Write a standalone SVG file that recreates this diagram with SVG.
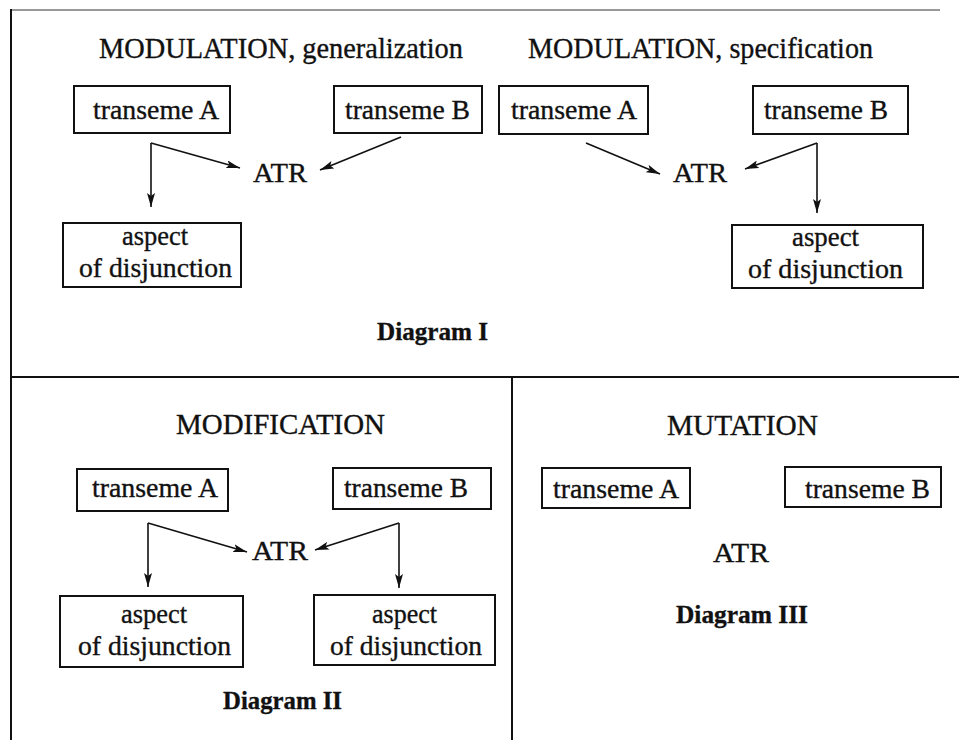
<svg xmlns="http://www.w3.org/2000/svg" width="959" height="740" viewBox="0 0 959 740">
<style>
text{font-family:"Liberation Serif","Times New Roman",serif;fill:#111;stroke:#111;stroke-width:0.35}
.t{font-size:27px}
.h{font-size:29px}
.d{font-size:26px;font-weight:bold}
.box{fill:none;stroke:#111;stroke-width:2}
.frame{fill:none;stroke:#111;stroke-width:2}
.c{fill:none;stroke:#111;stroke-width:1.6}
</style>
<defs>
<marker id="ah" viewBox="0 0 14 8" refX="14" refY="4" markerWidth="14" markerHeight="8" markerUnits="userSpaceOnUse" orient="auto">
<path d="M0,0 L14,4 L0,8 L3,4 z" fill="#111"/>
</marker>
</defs>
<rect width="959" height="740" fill="#fff"/>
<g id="frame">
<line x1="11" y1="10" x2="940" y2="10" stroke="#777" stroke-width="1.5"/>
<line class="frame" x1="11" y1="9" x2="11" y2="740"/>
<line class="frame" x1="11" y1="377" x2="959" y2="377"/>
<line class="frame" x1="512" y1="377" x2="512" y2="740"/>
</g>
<g id="diagram1">
<text id="title1a" class="h" x="99" y="58" textLength="364" lengthAdjust="spacingAndGlyphs">MODULATION, generalization</text>
<text id="title1b" class="h" x="528" y="58" textLength="345" lengthAdjust="spacingAndGlyphs">MODULATION, specification</text>
<g id="d1-tA1"><rect class="box" x="74" y="86" width="156" height="47"/><text class="t" x="93" y="119" textLength="126" lengthAdjust="spacingAndGlyphs">transeme A</text></g>
<g id="d1-tB1"><rect class="box" x="334" y="86" width="148" height="47"/><text class="t" x="345" y="119" textLength="125" lengthAdjust="spacingAndGlyphs">transeme B</text></g>
<g id="d1-tA2"><rect class="box" x="499" y="86" width="149" height="48"/><text class="t" x="511" y="119" textLength="126" lengthAdjust="spacingAndGlyphs">transeme A</text></g>
<g id="d1-tB2"><rect class="box" x="753" y="86" width="155" height="48"/><text class="t" x="764" y="119" textLength="124" lengthAdjust="spacingAndGlyphs">transeme B</text></g>
<g id="d1-atr1"><text class="t" x="253" y="182" textLength="54" lengthAdjust="spacingAndGlyphs">ATR</text></g>
<g id="d1-atr2"><text class="t" x="673" y="182" textLength="54" lengthAdjust="spacingAndGlyphs">ATR</text></g>
<g id="d1-asp1"><rect class="box" x="63" y="223" width="178" height="64"/><text class="t" x="122" y="245" textLength="66" lengthAdjust="spacingAndGlyphs">aspect</text><text class="t" x="79" y="277" textLength="153" lengthAdjust="spacingAndGlyphs">of disjunction</text></g>
<g id="d1-asp2"><rect class="box" x="732" y="225" width="191" height="63"/><text class="t" x="792" y="246" textLength="67" lengthAdjust="spacingAndGlyphs">aspect</text><text class="t" x="748" y="278" textLength="155" lengthAdjust="spacingAndGlyphs">of disjunction</text></g>
<text id="label1" class="d" x="377" y="340" textLength="111" lengthAdjust="spacingAndGlyphs">Diagram I</text>
</g>
<g id="diagram2">
<text id="title2" class="h" x="176" y="434" textLength="209" lengthAdjust="spacingAndGlyphs">MODIFICATION</text>
<g id="d2-tA"><rect class="box" x="77" y="469" width="151" height="42"/><text class="t" x="92" y="497" textLength="126" lengthAdjust="spacingAndGlyphs">transeme A</text></g>
<g id="d2-tB"><rect class="box" x="333" y="468" width="158" height="41"/><text class="t" x="344" y="497" textLength="124" lengthAdjust="spacingAndGlyphs">transeme B</text></g>
<g id="d2-atr"><text class="t" x="252" y="560" textLength="56" lengthAdjust="spacingAndGlyphs">ATR</text></g>
<g id="d2-asp1"><rect class="box" x="60" y="596" width="183" height="71"/><text class="t" x="121" y="623" textLength="66" lengthAdjust="spacingAndGlyphs">aspect</text><text class="t" x="78" y="655" textLength="153" lengthAdjust="spacingAndGlyphs">of disjunction</text></g>
<g id="d2-asp2"><rect class="box" x="314" y="595" width="181" height="70"/><text class="t" x="372" y="623" textLength="65" lengthAdjust="spacingAndGlyphs">aspect</text><text class="t" x="330" y="655" textLength="152" lengthAdjust="spacingAndGlyphs">of disjunction</text></g>
<text id="label2" class="d" x="223" y="709" textLength="119" lengthAdjust="spacingAndGlyphs">Diagram II</text>
</g>
<g id="diagram3">
<text id="title3" class="h" x="667" y="435" textLength="151" lengthAdjust="spacingAndGlyphs">MUTATION</text>
<g id="d3-tA"><rect class="box" x="542" y="468" width="148" height="40"/><text class="t" x="553" y="498" textLength="126" lengthAdjust="spacingAndGlyphs">transeme A</text></g>
<g id="d3-tB"><rect class="box" x="785" y="467" width="156" height="40"/><text class="t" x="805" y="498" textLength="125" lengthAdjust="spacingAndGlyphs">transeme B</text></g>
<g id="d3-atr"><text class="t" x="713" y="562" textLength="56" lengthAdjust="spacingAndGlyphs">ATR</text></g>
<text id="label3" class="d" x="676" y="623" textLength="132" lengthAdjust="spacingAndGlyphs">Diagram III</text>
</g>
<g id="connectors">
<path class="c" d="M151,143 L151,207" marker-end="url(#ah)"/>
<path class="c" d="M151,143 L240,168" marker-end="url(#ah)"/>
<path class="c" d="M401,137 L320,170" marker-end="url(#ah)"/>
<path class="c" d="M586,143 L660,174" marker-end="url(#ah)"/>
<path class="c" d="M817,143 L745,169" marker-end="url(#ah)"/>
<path class="c" d="M817,143 L817,213" marker-end="url(#ah)"/>
<path class="c" d="M148,523 L148,587" marker-end="url(#ah)"/>
<path class="c" d="M148,523 L247,552" marker-end="url(#ah)"/>
<path class="c" d="M399,523 L315,550" marker-end="url(#ah)"/>
<path class="c" d="M399,523 L399,588" marker-end="url(#ah)"/>
</g>
</svg>
